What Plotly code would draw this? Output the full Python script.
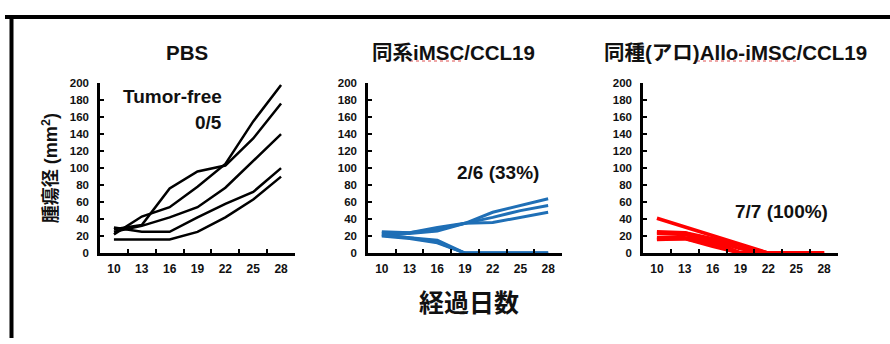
import plotly.graph_objects as go

days = ["10", "13", "16", "19", "22", "25", "28"]
y_ticks = [0, 20, 40, 60, 80, 100, 120, 140, 160, 180, 200]

pbs = [
    [28, 33, 76, 96, 103, 135, 176],
    [22, 43, 54, 78, 105, 155, 198],
    [25, 32, 42, 54, 77, 108, 140],
    [30, 25, 25, 42, 58, 72, 100],
    [16, 16, 16, 25, 42, 63, 90],
]
syn = [
    [25, 24, 30, 35, 48, 56, 64],
    [24, 24, 28, 35, 42, 50, 56],
    [23, 23, 26, 35, 36, 42, 48],
    [22, 18, 15, 0, 0, 0, 0],
    [20, 17, 12, 0, 0, 0, 0],
    [21, 18, 13, 0, 0, 0, 0],
]
allo = [
    [41, 31, 20, 10, 0, 0, 0],
    [25, 24, 17, 8, 0, 0, 0],
    [24, 24, 14, 0, 0, 0, 0],
    [23, 22, 12, 0, 0, 0, 0],
    [18, 18, 15, 5, 0, 0, 0],
    [17, 17, 10, 0, 0, 0, 0],
    [16, 17, 8, 0, 0, 0, 0],
]

titles = ["PBS", "同系iMSC/CCL19", "同種(アロ)Allo-iMSC/CCL19"]
notes = ["2/6 (33%)", "7/7 (100%)"]
y_title = "腫瘍径 (mm<sup>2</sup>)"
x_title = "経過日数"

W, H = 890, 344
FONT = "Arial, 'Liberation Sans', 'Noto Sans CJK JP', sans-serif"

groups = [(pbs, "#000000", 2.5), (syn, "#1f6fb6", 3), (allo, "#ff0000", 3.5)]
xdom = [(100, 295), (368, 562), (643, 838)]
ydom = [(H - 256) / H, (H - 80) / H]

fig = go.Figure()
for i, (data, color, lw) in enumerate(groups):
    xa = "x" if i == 0 else f"x{i+1}"
    ya = "y" if i == 0 else f"y{i+1}"
    for s in data:
        fig.add_trace(go.Scatter(x=days, y=s, mode="lines", xaxis=xa, yaxis=ya,
                                 line=dict(color=color, width=lw), showlegend=False,
                                 hoverinfo="skip"))
    xk = "xaxis" if i == 0 else f"xaxis{i+1}"
    yk = "yaxis" if i == 0 else f"yaxis{i+1}"
    fig.layout[xk] = dict(
        domain=[xdom[i][0] / W, xdom[i][1] / W], anchor=ya, type="category",
        categoryorder="array", categoryarray=days, range=[-0.5, 6.5],
        tickson="boundaries", ticks="inside", ticklen=4, tickwidth=2, tickcolor="black",
        showline=True, linecolor="black", linewidth=2.5, showgrid=False, zeroline=False,
        ticklabelstandoff=3,
        tickfont=dict(family=FONT, size=12, color="#111", weight="bold"),
    )
    fig.layout[yk] = dict(
        domain=ydom, anchor=xa, range=[0, 200], tickvals=y_ticks,
        ticks="inside", ticklen=4, tickwidth=2, tickcolor="black",
        showline=True, linecolor="black", linewidth=2.5, showgrid=False, zeroline=False,
        ticklabelstandoff=6,
        tickfont=dict(family=FONT, size=11.5, color="#111", weight="bold"),
    )


def note(text, x, y, size, angle=0):
    return dict(text=f"<b>{text}</b>", x=x / W, y=1 - y / H, xref="paper", yref="paper",
                showarrow=False, xanchor="center", yanchor="middle", textangle=angle,
                font=dict(family=FONT, size=size, color="#111"))


ann = []
title_x = [187, 453, 735]
for t, x in zip(titles, title_x):
    ann.append(note(t, x, 48, 20.5))
ann.append(note("Tumor-free", 172, 94, 19))
ann.append(note("0/5", 208, 121, 19))
ann.append(note(notes[0], 498, 172, 19))
ann.append(note(notes[1], 781, 213, 19))
ann.append(note(y_title, 50, 168, 18, -90))
ann.append(note(x_title, 469, 308, 25))

shapes = [
    dict(type="line", xref="paper", yref="paper", x0=5 / W, x1=1, y0=1 - 11.5 / H, y1=1 - 11.5 / H,
         line=dict(color="black", width=4)),
    dict(type="line", xref="paper", yref="paper", x0=11.5 / W, x1=11.5 / W, y0=0, y1=1 - 10 / H,
         line=dict(color="black", width=4)),
    dict(type="line", xref="paper", yref="paper", x0=410 / W, x1=463 / W, y0=1 - 57 / H, y1=1 - 57 / H,
         line=dict(color="#e05050", width=1, dash="dot")),
    dict(type="line", xref="paper", yref="paper", x0=697 / W, x1=798 / W, y0=1 - 57 / H, y1=1 - 57 / H,
         line=dict(color="#e05050", width=1, dash="dot")),
]

fig.update_layout(width=W, height=H, margin=dict(l=0, r=0, t=0, b=0),
                  paper_bgcolor="white", plot_bgcolor="white",
                  annotations=ann, shapes=shapes)
fig.write_html("out.html")
